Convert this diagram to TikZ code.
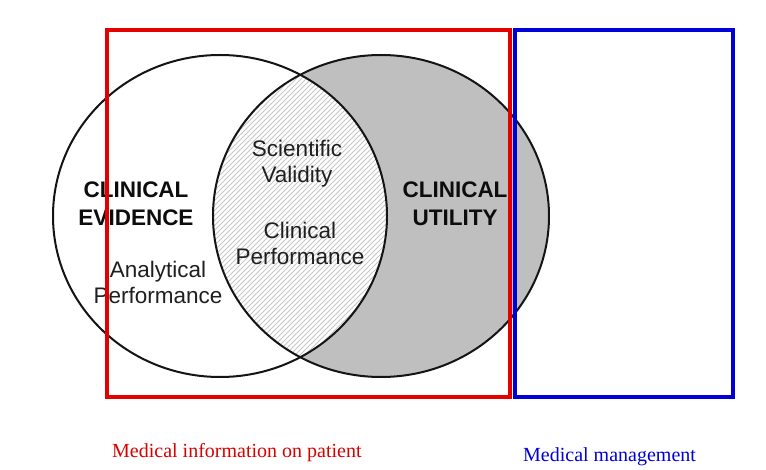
\documentclass[tikz,border=0pt]{standalone}
\usepackage{fontspec}
\setmainfont{Liberation Serif}
\newfontfamily\arialf{Liberation Sans}
\begin{document}
\begin{tikzpicture}[x=1pt,y=-1pt,
  circ/.style={draw=black!92,line width=2pt},
  lbl/.style={font=\arialf\fontsize{22.5}{26}\selectfont,text=black!88,align=center,inner sep=0pt},
  blbl/.style={lbl,font=\arialf\bfseries\fontsize{22.5}{28}\selectfont,text=black!95},
  capl/.style={font=\fontsize{20}{24}\selectfont,inner sep=0pt,anchor=west}]
\useasboundingbox (0,0) rectangle (766,470);
\fill[white] (0,0) rectangle (766,470);
% right circle grey
\fill[black!25] (381,216) ellipse [x radius=168,y radius=161];
% lens with hatching
\begin{scope}
  \clip (220,216) ellipse [x radius=167,y radius=161];
  \clip (381,216) ellipse [x radius=168,y radius=161];
  \fill[white] (0,0) rectangle (766,470);
  \foreach \i in {-400,-395,...,700}{
    \draw[black!22,line width=0.8pt] (\i,400) -- (\i+400,0);
  }
\end{scope}
\draw[circ] (220,216) ellipse [x radius=167,y radius=161];
\draw[circ] (381,216) ellipse [x radius=168,y radius=161];
% texts
\node[blbl] (ce) at (136,204) {CLINICAL\\EVIDENCE};
\node[blbl] (cu) at (455,204) {CLINICAL\\UTILITY};
\node[lbl] (ap) at (158,282) {Analytical\\Performance};
\node[lbl] (sv) at (297,164) {Scientific\\Validity};
\node[lbl] (cp) at (300,243) {Clinical\\Performance};
% rectangles
\draw[red!90!black,line width=4pt] (107,30) rectangle (510,397);
\draw[blue!85!black,line width=4pt] (515,30) rectangle (733,397);
\node[capl,text=red!85!black] (mi) at (112,453) {Medical information on patient};
\node[capl,text=blue!85!black] (mm) at (523,457) {Medical management};
\end{tikzpicture}
\end{document}
